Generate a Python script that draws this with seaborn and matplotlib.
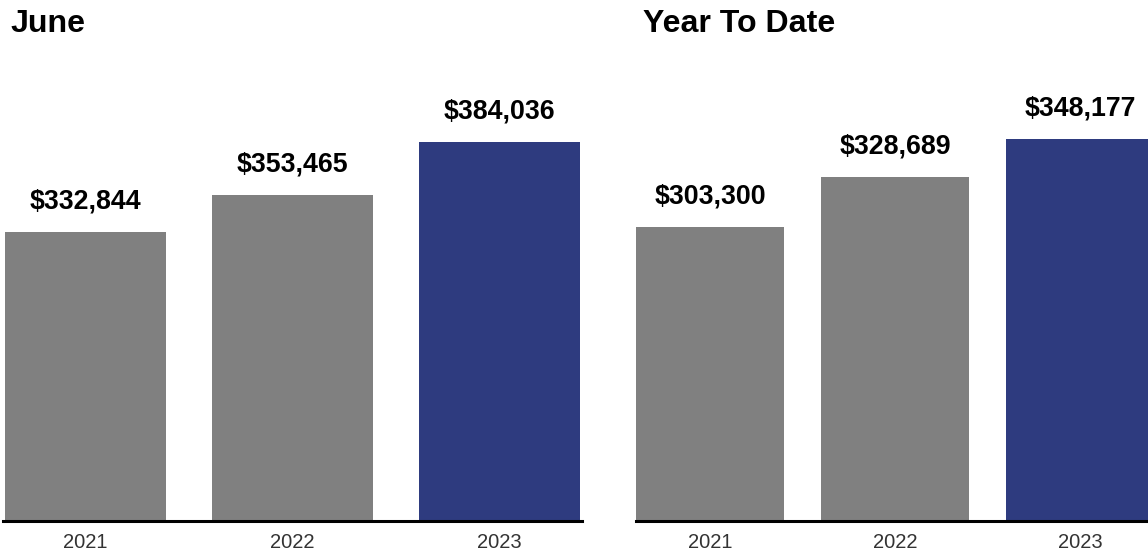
import matplotlib
matplotlib.use("Agg")
import matplotlib.pyplot as plt
import seaborn as sns
import pandas as pd

years = ["2021", "2022", "2023"]
june_values = [332844, 353465, 384036]
ytd_values = [303300, 328689, 348177]
panel_titles = ["June", "Year To Date"]
bar_colors = ["#808080", "#808080", "#2E3B7F"]
june_ylim = (168300, 430500)
ytd_ylim = (152200, 388900)

sns.set_theme(style="white")
plt.rcParams["font.family"] = ["Liberation Sans", "DejaVu Sans"]

W, H = 1148, 554
fig = plt.figure(figsize=(W / 100, H / 100), dpi=100)

specs = [
    dict(vals=june_values, ylim=june_ylim, title=panel_titles[0], left=3, right=582, width=0.78, title_x=10),
    dict(vals=ytd_values, ylim=ytd_ylim, title=panel_titles[1], left=636, right=1154, width=0.8, title_x=643),
]
top_px, bottom_px = 60, 521

for sp in specs:
    ax = fig.add_axes([sp["left"] / W, (H - bottom_px) / H,
                       (sp["right"] - sp["left"]) / W, (bottom_px - top_px) / H])
    df = pd.DataFrame({"year": years, "value": sp["vals"]})
    sns.barplot(data=df, x="year", y="value", hue="year", palette=bar_colors,
                legend=False, width=sp["width"], saturation=1, linewidth=0, ax=ax)
    ax.set_xlim(-0.4, 2.4)
    ax.set_ylim(*sp["ylim"])
    for i, v in enumerate(sp["vals"]):
        ax.annotate(f"${v:,.0f}", xy=(i, v), xytext=(0, 17.0), textcoords="offset points",
                    ha="center", va="baseline", fontsize=19.3, fontweight="bold",
                    color="black", annotation_clip=False)
    ax.set_xlabel("")
    ax.set_ylabel("")
    ax.set_yticks([])
    for s in ["left", "right", "top"]:
        ax.spines[s].set_visible(False)
    ax.spines["bottom"].set_color("black")
    ax.spines["bottom"].set_linewidth(2.2)
    ax.tick_params(axis="x", length=0, pad=8.5, labelsize=14.5, labelcolor="#333333")
    ax.set_facecolor("white")
    fig.text(sp["title_x"] / W, 1 - 32 / H, sp["title"], fontsize=23.1,
             fontweight="bold", color="black", ha="left", va="baseline")

fig.savefig("out.png", dpi=100, facecolor="white")
